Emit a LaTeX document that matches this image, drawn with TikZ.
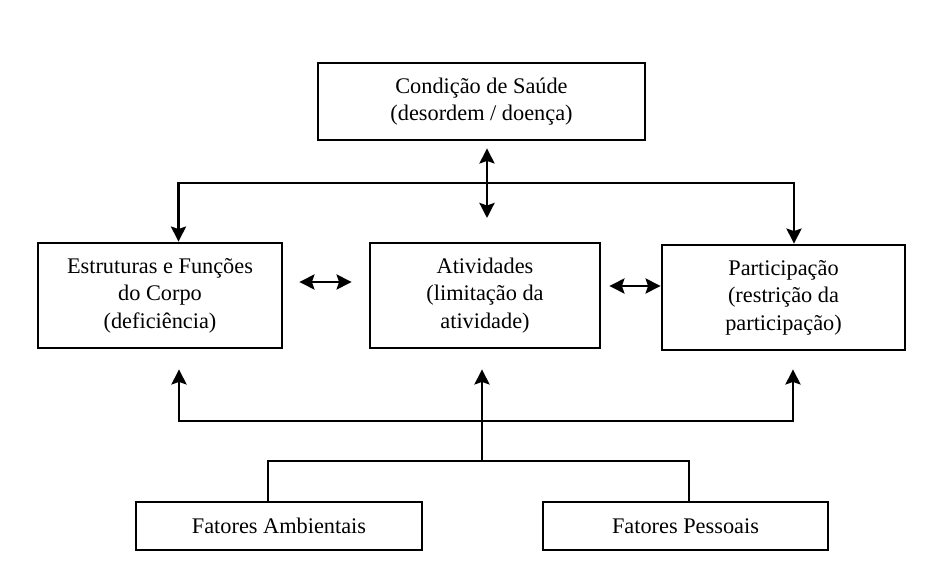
\documentclass[tikz,border=0pt]{standalone}
\usepackage{fontspec}
\setmainfont{Liberation Serif}
\usetikzlibrary{arrows.meta}

\begin{document}
\begin{tikzpicture}[line width=1.6pt,
	caixa/.style={draw, align=center, inner sep=0pt,
		font=\fontsize{12.7}{15.6}\selectfont},
	ponta/.tip={Stealth[length=0.30cm, width=0.30cm, inset=0.05cm]},
	seta/.style={-ponta},
	seta2/.style={ponta-ponta},
	]
	
	\useasboundingbox (0,0) rectangle (18.7,-11.52);
	
	%% ── Caixas ────────────────────────────────────────────────────────────────
	\node[caixa, minimum width=6.54cm, minimum height=1.54cm] (cond) at (9.63,-2.03)
		{Condição de Saúde\\(desordem / doença)};
	\node[caixa, minimum width=4.88cm, minimum height=2.1cm] (estr) at (3.20,-5.91)
		{Estruturas e Funções\\do Corpo\\(deficiência)};
	\node[caixa, minimum width=4.60cm, minimum height=2.1cm] (ativ) at (9.70,-5.91)
		{Atividades\\(limitação da\\atividade)};
	\node[caixa, minimum width=4.86cm, minimum height=2.1cm] (part) at (15.67,-5.95)
		{Participação\\(restrição da\\participação)};
	\node[caixa, minimum width=5.72cm, minimum height=0.96cm] (amb) at (5.58,-10.52)
		{Fatores Ambientais};
	\node[caixa, minimum width=5.70cm, minimum height=0.96cm] (pess) at (13.71,-10.52)
		{Fatores Pessoais};
	
	%% ── Pontos de junção ─────────────────────────────────────────────────────
	\coordinate (c1) at (9.74,-4.36);
	\coordinate (tl) at (3.57,-3.66);
	\coordinate (tr) at (15.88,-3.66);
	\coordinate (bl) at (3.58,-8.42);
	\coordinate (br) at (15.86,-8.42);
	\coordinate (bm) at (9.64,-9.22);
	\coordinate (jl) at (5.36,-9.22);
	\coordinate (jr) at (13.78,-9.22);
	
	%% ── Ligações superiores ──────────────────────────────────────────────────
	\draw[seta2, shorten <=0.14cm] (cond.south -| c1) -- (c1);
	\draw[seta2] (tl |- estr.north) -- (tl) -- (tr) -- (tr |- part.north);
	
	%% ── Ligações horizontais ─────────────────────────────────────────────────
	\draw[seta2] ([shift={(0.32,0.27)}]estr.east) -- ([shift={(-0.34,0.27)}]ativ.west);
	\draw[seta2] ([shift={(0.16,0.19)}]ativ.east) -- ([yshift=0.19cm]ativ.east -| part.west);
	
	%% ── Ligações inferiores ──────────────────────────────────────────────────
	\draw[seta2] ([yshift=-0.40cm]estr.south -| bl) -- (bl) -- (br)
		-- ([yshift=-0.36cm]part.south -| br);
	\draw[seta] (bm) -- ([yshift=-0.40cm]ativ.south -| bm);
	\draw (amb.north -| jl) -- (jl) -- (jr) -- (pess.north -| jr);
	
\end{tikzpicture}
\end{document}
